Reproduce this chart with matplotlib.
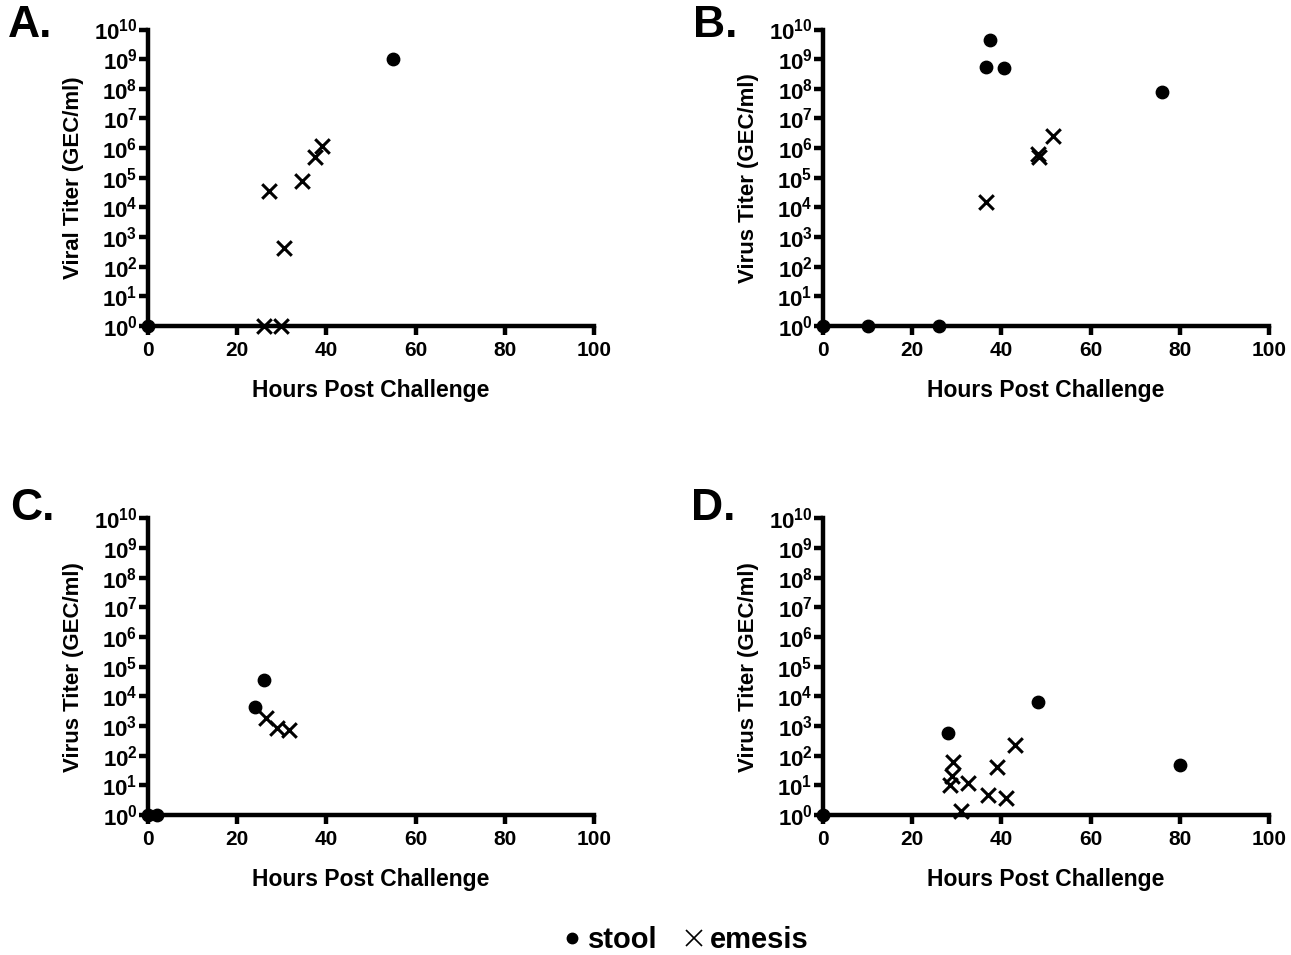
import matplotlib
matplotlib.use("Agg")
import matplotlib.pyplot as plt

plt.rcParams['font.family'] = ['Liberation Sans', 'DejaVu Sans']
plt.rcParams['font.weight'] = 'bold'
plt.rcParams['mathtext.fontset'] = 'custom'
plt.rcParams['mathtext.rm'] = 'Liberation Sans:bold'
plt.rcParams['mathtext.bf'] = 'Liberation Sans:bold'

# -------- Data (hours post challenge, GEC/ml) --------
a_stool_h = [0, 54.9]
a_stool_v = [1, 1.05e9]
a_emesis_h = [26.0, 29.9, 27.1, 30.6, 34.5, 37.5, 39.1]
a_emesis_v = [1, 1, 3.6e4, 440, 7.5e4, 5.0e5, 1.2e6]

b_stool_h = [0, 10.1, 26.0, 37.5, 36.5, 40.5, 75.9]
b_stool_v = [1, 1, 1, 4.6e9, 5.4e8, 4.9e8, 7.9e7]
b_emesis_h = [36.5, 48.1, 48.4, 51.6]
b_emesis_v = [1.55e4, 6.3e5, 5.1e5, 2.5e6]

c_stool_h = [0, 2.0, 24.0, 26.0]
c_stool_v = [1, 1, 4.4e3, 3.5e4]
c_emesis_h = [26.5, 29.0, 31.6]
c_emesis_v = [1.8e3, 890, 740]

d_stool_h = [0, 28.0, 48.1, 80.0]
d_stool_v = [1, 585, 6.3e3, 48]
d_emesis_h = [28.5, 29.0, 29.1, 31.0, 32.6, 37.0, 39.1, 41.1, 43.1]
d_emesis_v = [10, 20, 59, 1.4, 12, 4.9, 42, 3.8, 224]

panels = [
    ("A.", "Viral Titer (GEC/ml)", a_stool_h, a_stool_v, a_emesis_h, a_emesis_v),
    ("B.", "Virus Titer (GEC/ml)", b_stool_h, b_stool_v, b_emesis_h, b_emesis_v),
    ("C.", "Virus Titer (GEC/ml)", c_stool_h, c_stool_v, c_emesis_h, c_emesis_v),
    ("D.", "Virus Titer (GEC/ml)", d_stool_h, d_stool_v, d_emesis_h, d_emesis_v),
]

x_ticks = [0, 20, 40, 60, 80, 100]
y_exps = list(range(0, 11))

# axes rectangles in figure fraction (left, bottom, width, height)
rects = [
    (0.1146, 0.6586, 0.3455, 0.3105),
    (0.6375, 0.6586, 0.3455, 0.3105),
    (0.1146, 0.1466, 0.3455, 0.3105),
    (0.6375, 0.1466, 0.3455, 0.3105),
]
# panel letter positions (figure fraction)
letter_pos = [(0.006, 0.9728), (0.537, 0.9728), (0.008, 0.468), (0.535, 0.468)]

fig = plt.figure(figsize=(12.91, 9.55), dpi=100)

for (letter, ylabel, sh, sv, eh, ev), rect, lp in zip(panels, rects, letter_pos):
    ax = fig.add_axes(rect)
    ax.scatter(sh, sv, s=80, marker='o', color='black', clip_on=False, zorder=3)
    ax.scatter(eh, ev, s=110, marker='x', color='black', linewidths=2.2,
               clip_on=False, zorder=3)
    ax.set_yscale('log')
    ax.set_xlim(0, 100)
    ax.set_ylim(1, 1e10)
    ax.set_xticks(x_ticks)
    ax.set_xticklabels([str(t) for t in x_ticks], fontsize=15, fontweight='bold')
    ax.set_yticks([10.0 ** e for e in y_exps])
    ax.set_yticklabels([r'$\mathbf{10^{%d}}$' % e for e in y_exps], fontsize=16)
    ax.minorticks_off()
    for side in ['top', 'right']:
        ax.spines[side].set_visible(False)
    for side in ['left', 'bottom']:
        ax.spines[side].set_linewidth(3.2)
    ax.tick_params(width=3.2, length=6.5, direction='out')
    ax.tick_params(axis='x', pad=4)
    ax.tick_params(axis='y', pad=1)
    ax.set_xlabel("Hours Post Challenge", fontsize=16.5, fontweight='bold', labelpad=14)
    ax.set_ylabel(ylabel, fontsize=16, fontweight='bold', labelpad=7)
    fig.text(lp[0], lp[1], letter, fontsize=32, fontweight='bold',
             va='center', ha='left')

# -------- Legend --------
h_stool = plt.Line2D([], [], marker='o', color='black', linestyle='none', markersize=7.5)
h_emesis = plt.Line2D([], [], marker='x', color='black', linestyle='none',
                      markersize=12, markeredgewidth=1.2)
fig.legend([h_stool, h_emesis], ["stool", "emesis"], loc='center',
           bbox_to_anchor=(0.529, 0.0157), ncol=2, frameon=False,
           prop={'size': 21, 'weight': 'bold'}, handletextpad=0.05,
           columnspacing=0.75, handlelength=1.0)

fig.savefig("out.png", dpi=100)
